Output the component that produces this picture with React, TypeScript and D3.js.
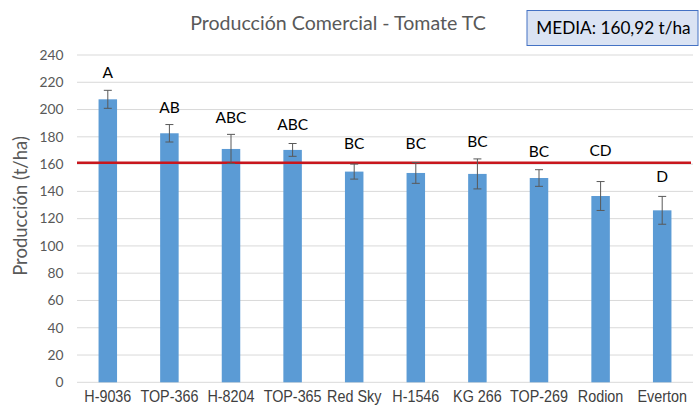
import * as d3 from "d3";

// Producción comercial por variedad (t/ha)
const varieties = ["H-9036", "TOP-366", "H-8204", "TOP-365", "Red Sky", "H-1546", "KG 266", "TOP-269", "Rodion", "Everton"];
const production = [207.5, 182.6, 171.1, 170.4, 154.5, 153.5, 152.8, 149.8, 136.6, 126.1];
const errors = [6.6, 6.4, 10.7, 4.7, 5.5, 7.6, 11.0, 6.1, 10.6, 10.2];
const groups = ["A", "AB", "ABC", "ABC", "BC", "BC", "BC", "BC", "CD", "D"];
// height (in t/ha) where each letter sits
const groupAt = [226.8, 201.2, 193.8, 188.7, 175.3, 175.3, 176.5, 169.4, 169.9, 150.8];
const yTicks = [0, 20, 40, 60, 80, 100, 120, 140, 160, 180, 200, 220, 240];
const mean = 160.92;

const W = 699;
const H = 410;
const font = "Lato, 'Open Sans', sans-serif";

export default function App() {
  const y = d3.scaleLinear().domain([0, 240]).range([382.3, 55]);
  const band = d3.scaleBand<string>().domain(varieties).range([77, 693]);
  const cx = (v: string) => (band(v) ?? 0) + band.bandwidth() / 2;
  const bw = 18.5;

  return (
    <svg width={W} height={H} style={{ position: "absolute", left: 0, top: 0, background: "#fff" }}>
      {/* gridlines */}
      {yTicks.map((t) => (
        <line key={t} x1={77} x2={693} y1={y(t)} y2={y(t)} stroke="#D9D9D9" strokeWidth={1} />
      ))}
      {yTicks.map((t) => (
        <text key={"l" + t} x={63.5} y={y(t)} dy="0.35em" textAnchor="end" fontFamily={font} fontSize={13.8} fill="#595959">
          {t}
        </text>
      ))}

      {/* bars */}
      {varieties.map((v, i) => (
        <rect key={v} x={cx(v) - bw / 2} y={y(production[i])} width={bw} height={y(0) - y(production[i])} fill="#5B9BD5" />
      ))}

      {/* mean line */}
      <line x1={77} x2={691} y1={y(mean)} y2={y(mean)} stroke="#C8161D" strokeWidth={2.5} />

      {/* error bars */}
      {varieties.map((v, i) => {
        const c = cx(v);
        const top = y(production[i] + errors[i]);
        const bot = y(production[i] - errors[i]);
        return (
          <g key={"e" + v} stroke="#595959" strokeWidth={1}>
            <line x1={c} x2={c} y1={top} y2={bot} />
            <line x1={c - 4} x2={c + 4} y1={top} y2={top} />
            <line x1={c - 4} x2={c + 4} y1={bot} y2={bot} />
          </g>
        );
      })}

      {/* group letters */}
      {varieties.map((v, i) => (
        <text key={"g" + v} x={cx(v)} y={y(groupAt[i])} dy="0.35em" textAnchor="middle" fontFamily={font} fontSize={15.5} fill="#000">
          {groups[i]}
        </text>
      ))}

      {/* category labels, narrowed like the original condensed face */}
      {varieties.map((v) => (
        <text
          key={"x" + v}
          transform={`translate(${cx(v)},396) scale(0.87,1)`}
          dy="0.35em"
          textAnchor="middle"
          fontFamily="'Liberation Sans', Arial, sans-serif"
          fontSize={16.5}
          fill="#404040"
        >
          {v}
        </text>
      ))}

      {/* axis title */}
      <text transform={`translate(21,206) rotate(-90)`} textAnchor="middle" dy="0.35em" fontFamily={font} fontSize={18.5} fill="#595959">
        Producción (t/ha)
      </text>

      {/* title */}
      <text x={338} y={23} dy="0.35em" textAnchor="middle" fontFamily={font} fontSize={19.6} fill="#595959">
        Producción Comercial - Tomate TC
      </text>

      {/* mean box */}
      <rect x={527} y={10.5} width={171} height={35} fill="#DAE3F3" stroke="#4472C4" strokeWidth={1} />
      <text x={613.5} y={28} dy="0.35em" textAnchor="middle" fontFamily={font} fontSize={17.2} fill="#000">
        MEDIA: 160,92 t/ha
      </text>
    </svg>
  );
}
